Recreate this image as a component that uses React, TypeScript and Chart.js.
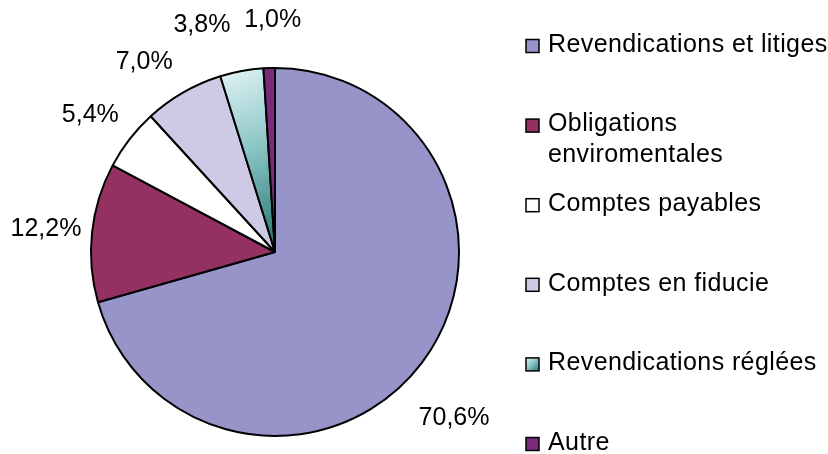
import { useEffect, useRef } from 'react';
import { Chart, registerables } from 'chart.js';

Chart.register(...registerables);

const categories = [
  'Revendications et litiges',
  'Obligations\nenviromentales',
  'Comptes payables',
  'Comptes en fiducie',
  'Revendications réglées',
  'Autre',
];
const shares = [70.6, 12.2, 5.4, 7.0, 3.8, 1.0];
const sliceColors = ['#9694C9', '#943160', '#FFFFFF', '#CECAE6', '#8CC8C8', '#7A2A7A'];

const FONT = '"Liberation Sans", Arial, sans-serif';
const TEXT_SIZE = 25;

// style: small nudges applied to the computed outside-end label anchor
const labelNudges: [number, number][] = [
  [-12, 36],
  [9, 0],
  [-1, -5],
  [-15, -3],
  [-31, -15],
  [5, -17],
];

function tealGradient(ctx: CanvasRenderingContext2D, x0: number, y0: number, x1: number, y1: number) {
  const g = ctx.createLinearGradient(x0, y0, x1, y1);
  g.addColorStop(0, '#E0F3F4');
  g.addColorStop(0.45, '#8EC7C7');
  g.addColorStop(1, '#2A7876');
  return g;
}

const labelPlugin = {
  id: 'pieLabels',
  afterDatasetsDraw(chart: any) {
    const ctx: CanvasRenderingContext2D = chart.ctx;
    const meta = chart.getDatasetMeta(0);
    const values: number[] = chart.data.datasets[0].data;
    ctx.save();
    ctx.font = `${TEXT_SIZE}px ${FONT}`;
    ctx.fillStyle = '#000';
    ctx.textAlign = 'center';
    ctx.textBaseline = 'middle';
    meta.data.forEach((arc: any, i: number) => {
      const mid = (arc.startAngle + arc.endAngle) / 2;
      const dx = Math.cos(mid);
      const dy = Math.sin(mid);
      const txt = values[i].toFixed(1).replace('.', ',') + '%';
      const w = ctx.measureText(txt).width;
      const h = 22;
      const r = arc.outerRadius + 20;
      const n = labelNudges[i] || [0, 0];
      const x = arc.x + dx * r + (w / 2) * dx + n[0];
      const y = arc.y + dy * r + (h / 2) * dy + n[1];
      ctx.fillText(txt, x, y);
    });
    ctx.restore();
  },
};

const legendPlugin = {
  id: 'sideLegend',
  afterDraw(chart: any) {
    const ctx: CanvasRenderingContext2D = chart.ctx;
    const labels: string[] = chart.data.labels;
    const top = 45;
    const bottom = 443;
    const pitch = (bottom - top) / (labels.length - 1);
    const boxX = 526;
    const textX = 548;
    const box = 13;
    const lineH = 31;
    ctx.save();
    ctx.font = `${TEXT_SIZE}px ${FONT}`;
    (ctx as any).letterSpacing = '0.4px';
    ctx.textAlign = 'left';
    ctx.textBaseline = 'middle';
    labels.forEach((label, i) => {
      const y = top + i * pitch;
      const bx = boxX;
      const by = y - box / 2 + 1;
      if (i === 4) {
        ctx.fillStyle = tealGradient(ctx, bx, by, bx + box, by + box);
      } else {
        ctx.fillStyle = sliceColors[i];
      }
      ctx.fillRect(bx, by, box, box);
      ctx.lineWidth = 1.5;
      ctx.strokeStyle = '#000';
      ctx.strokeRect(bx, by, box, box);
      ctx.fillStyle = '#000';
      label.split('\n').forEach((line, j) => {
        ctx.fillText(line, textX, y + j * lineH);
      });
    });
    ctx.restore();
  },
};

export default function App() {
  const ref = useRef<HTMLCanvasElement>(null);
  useEffect(() => {
    if (!ref.current) return;
    const chart = new Chart(ref.current, {
      type: 'pie',
      data: {
        labels: categories,
        datasets: [
          {
            data: shares,
            backgroundColor: (c: any) => {
              const i = c.dataIndex;
              if (i !== 4) return sliceColors[i];
              const ch = c.chart;
              const a = ch.chartArea;
              if (!a) return sliceColors[i];
              const cx = (a.left + a.right) / 2;
              const cy = (a.top + a.bottom) / 2;
              const r = Math.min(a.width, a.height) / 2;
              const total = shares.reduce((s, v) => s + v, 0);
              let cum = 0;
              for (let k = 0; k < i; k++) cum += shares[k];
              const start = -Math.PI / 2 + (cum / total) * Math.PI * 2;
              const sx = cx + Math.cos(start) * r;
              const sy = cy + Math.sin(start) * r;
              return tealGradient(ch.ctx, sx - 4, sy - 4, cx + 6, cy - 10);
            },
            borderColor: '#000',
            borderWidth: 2,
          },
        ],
      },
      options: {
        animation: false,
        responsive: false,
        maintainAspectRatio: false,
        layout: { padding: { left: 90, right: 368, top: 67, bottom: 17 } },
        plugins: {
          legend: { display: false },
          tooltip: { enabled: false },
        },
      },
      plugins: [labelPlugin, legendPlugin],
    });
    return () => chart.destroy();
  }, []);
  return (
    <div style={{ position: 'absolute', left: 0, top: 0, width: 828, height: 454, background: '#fff' }}>
      <canvas ref={ref} width={828} height={454} />
    </div>
  );
}
